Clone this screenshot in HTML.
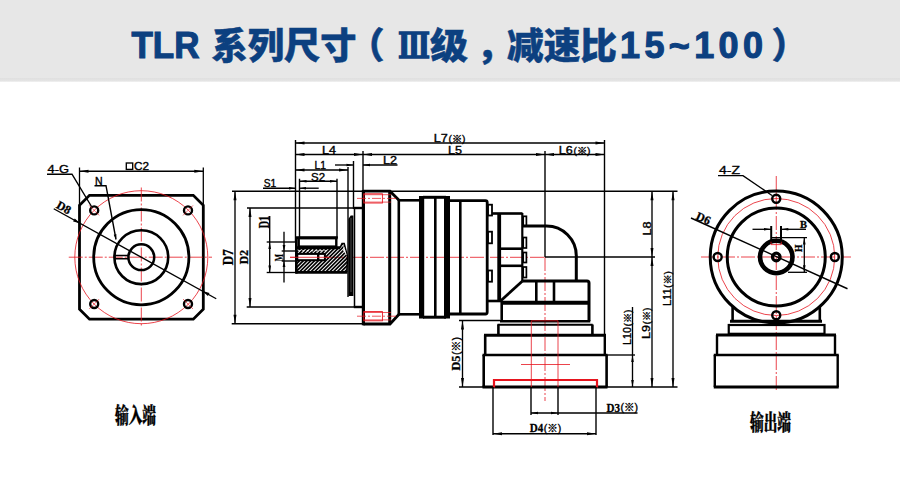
<!DOCTYPE html>
<html lang="zh"><head><meta charset="utf-8"><title>TLR 系列尺寸</title>
<style>
html,body{margin:0;padding:0;background:#fff;}
body{width:900px;height:480px;position:relative;overflow:hidden;font-family:"Liberation Sans","Noto Sans CJK SC",sans-serif;}
.banner{position:absolute;left:0;top:0;width:900px;height:78px;background:#e7e7e7;}
.banner2{position:absolute;left:0;top:78px;width:900px;height:3.5px;background:linear-gradient(#e0e0e0,#e4e4e4 70%,#f4f4f4);}
svg{position:absolute;left:0;top:0;}
.ttl{font-family:"Liberation Sans","Noto Sans CJK SC",sans-serif;font-weight:900;fill:#0c4080;}
.cad{font-family:"Liberation Sans","Noto Sans CJK SC",sans-serif;fill:#000;stroke:#000;stroke-width:0.35px;}
.ser{font-family:"Liberation Serif","Noto Serif CJK SC",serif;font-weight:bold;fill:#000;stroke:#000;stroke-width:0.3px;}
.cjk{font-family:"Noto Serif CJK SC","Liberation Serif",serif;font-weight:900;fill:#000;stroke:#000;stroke-width:0.4px;}
</style></head><body>
<div class="banner"></div><div class="banner2"></div>
<svg width="900" height="480" viewBox="0 0 900 480" >
<defs><clipPath id="hc"><path d="M297,247.5 L340,247.5 L342,243.6 L344.2,243.6 L347.6,256.8 L346.8,272 L297,272 Z"/></clipPath></defs>
<g class="ttl" font-size="36" stroke="#0c4080" stroke-width="0.5" transform="translate(0,0.9)">
<text x="131.5" y="57" textLength="68" lengthAdjust="spacingAndGlyphs" stroke="#0c4080" stroke-width="1.1">TLR</text>
<text x="211.5" y="58" textLength="145" lengthAdjust="spacingAndGlyphs">系列尺寸</text>
<text x="348.5" y="58">（</text>
<text x="398" y="57" textLength="32" lengthAdjust="spacingAndGlyphs" style="font-family:'DejaVu Serif','Liberation Serif',serif" font-weight="700" stroke="#0c4080" stroke-width="1.5">Ⅲ</text>
<text x="430" y="58" textLength="38" lengthAdjust="spacingAndGlyphs">级</text>
<text x="476.5" y="58">，</text>
<text x="507" y="58" textLength="110" lengthAdjust="spacingAndGlyphs">减速比</text>
<text x="620" y="57" textLength="143" lengthAdjust="spacing" stroke="#0c4080" stroke-width="1.1">15~100</text>
<text x="771.5" y="58">）</text>
</g>
<path d="M89.5,195.3 L193.3,195.3 L203.3,205.3 L203.3,309.2 L193.3,319.2 L89.5,319.2 L79.5,309.2 L79.5,205.3 Z" stroke="#000" stroke-width="2.8" fill="none" />
<circle cx="141.3" cy="257.2" r="66.5" stroke="#e6141e" stroke-width="0.8" fill="none"/>
<line x1="68.75" y1="257.2" x2="212" y2="257.2" stroke="#e6141e" stroke-width="0.8" stroke-dasharray="14 2 2 2"/>
<line x1="141.3" y1="187.5" x2="141.3" y2="327.5" stroke="#e6141e" stroke-width="0.8" stroke-dasharray="14 2 2 2"/>
<circle cx="141.3" cy="257.2" r="47.6" stroke="#000" stroke-width="2.8" fill="none"/>
<circle cx="141.3" cy="257.2" r="26.9" stroke="#000" stroke-width="2.6" fill="none"/>
<circle cx="141.3" cy="257.2" r="12.9" stroke="#000" stroke-width="2.5" fill="none"/>
<circle cx="94.2" cy="210.4" r="4" stroke="#000" stroke-width="2.4" fill="none"/>
<line x1="89.2" y1="205.4" x2="99.2" y2="215.4" stroke="#e6141e" stroke-width="0.6" />
<circle cx="188" cy="210.4" r="4" stroke="#000" stroke-width="2.4" fill="none"/>
<line x1="183" y1="215.4" x2="193" y2="205.4" stroke="#e6141e" stroke-width="0.6" />
<circle cx="94.2" cy="304" r="4" stroke="#000" stroke-width="2.4" fill="none"/>
<line x1="89.2" y1="309" x2="99.2" y2="299" stroke="#e6141e" stroke-width="0.6" />
<circle cx="188" cy="304" r="4" stroke="#000" stroke-width="2.4" fill="none"/>
<line x1="183" y1="299" x2="193" y2="309" stroke="#e6141e" stroke-width="0.6" />
<path d="M128.5,255.5 L115,255.5 L115,258.8 L128.5,258.8" stroke="#000" stroke-width="1.4" fill="none" />
<line x1="53.75" y1="208.75" x2="216.25" y2="298.75" stroke="#000" stroke-width="1.4" />
<polygon points="80.06,223.29 73.12,221.38 74.76,218.41" fill="#000"/>
<polygon points="202.54,291.11 209.48,293.02 207.84,295.99" fill="#000"/>
<text x="55.5" y="207.5" class="ser" font-size="12" text-anchor="start" transform="rotate(28.979707697928777 55.5 207.5)" >D8</text>
<text x="47.5" y="173" class="cad" font-size="11" text-anchor="start" textLength="21.5" lengthAdjust="spacingAndGlyphs" >4-G</text>
<path d="M47,174.2 L72,174.2 L91.5,206.5" stroke="#000" stroke-width="1.4" fill="none" />
<text x="95" y="184.5" class="cad" font-size="10.5" text-anchor="start" >N</text>
<path d="M94.5,185.7 L106,185.7 L116,239.5" stroke="#000" stroke-width="1.4" fill="none" />
<polygon points="116.00,239.50 113.71,234.84 116.47,234.33" fill="#000"/>
<line x1="79.5" y1="167.5" x2="79.5" y2="206" stroke="#000" stroke-width="1.3" />
<line x1="203.3" y1="167.5" x2="203.3" y2="206" stroke="#000" stroke-width="1.3" />
<line x1="79.5" y1="171.25" x2="203.3" y2="171.25" stroke="#000" stroke-width="1.35" />
<polygon points="79.50,171.25 88.50,169.75 88.50,172.75" fill="#000"/>
<polygon points="203.30,171.25 194.30,172.75 194.30,169.75" fill="#000"/>
<rect x="126.3" y="163" width="6.4" height="6.4" stroke="#000" stroke-width="1.35" fill="none"/>
<text x="134" y="170" class="cad" font-size="10.5" text-anchor="start" textLength="15" lengthAdjust="spacingAndGlyphs" >C2</text>
<text x="115" y="423.2" class="cjk" font-size="21.5" text-anchor="start" textLength="41" lengthAdjust="spacingAndGlyphs" >输入端</text>
<line x1="701" y1="257" x2="851" y2="257" stroke="#e6141e" stroke-width="0.8" stroke-dasharray="14 2 2 2"/>
<line x1="776.25" y1="176" x2="776.25" y2="391" stroke="#e6141e" stroke-width="0.8" stroke-dasharray="14 2 2 2"/>
<circle cx="776.25" cy="257" r="58.5" stroke="#e6141e" stroke-width="0.8" fill="none"/>
<circle cx="776.25" cy="257" r="66" stroke="#000" stroke-width="3" fill="none"/>
<circle cx="776.25" cy="257" r="49" stroke="#000" stroke-width="3" fill="none"/>
<circle cx="776.25" cy="257" r="16.2" stroke="#000" stroke-width="4.6" fill="none"/>
<circle cx="776.25" cy="257" r="3.8" stroke="#000" stroke-width="3.2" fill="none"/>
<circle cx="776.25" cy="198.8" r="4" stroke="#000" stroke-width="2.4" fill="none"/>
<circle cx="776.25" cy="315.2" r="4" stroke="#000" stroke-width="2.4" fill="none"/>
<circle cx="717.65" cy="257" r="4" stroke="#000" stroke-width="2.4" fill="none"/>
<circle cx="834.85" cy="257" r="4" stroke="#000" stroke-width="2.4" fill="none"/>
<path d="M771,241.5 L771,244.6 L781.3,244.6 L781.3,241.5" stroke="#e6141e" stroke-width="0.8" fill="none" />
<line x1="691" y1="218" x2="847.5" y2="288.75" stroke="#000" stroke-width="1.4" />
<text x="695" y="219" class="ser" font-size="12" text-anchor="start" transform="rotate(24.326616280234944 695 219)" >D6</text>
<text x="719" y="174.3" class="cad" font-size="11" text-anchor="start" textLength="21" lengthAdjust="spacingAndGlyphs" >4-Z</text>
<path d="M718,175.6 L743,175.6 L772,195.5" stroke="#000" stroke-width="1.4" fill="none" />
<line x1="752.5" y1="229.3" x2="771" y2="229.3" stroke="#000" stroke-width="1.3" />
<polygon points="771.00,229.30 764.00,230.60 764.00,228.00" fill="#000"/>
<line x1="781.3" y1="229.3" x2="806" y2="229.3" stroke="#000" stroke-width="1.3" />
<polygon points="781.30,229.30 788.30,228.00 788.30,230.60" fill="#000"/>
<line x1="771.2" y1="226" x2="771.2" y2="241.5" stroke="#000" stroke-width="2" />
<line x1="781" y1="226" x2="781" y2="241.5" stroke="#000" stroke-width="2" />
<text x="800" y="228" class="ser" font-size="10.5" text-anchor="start" >B</text>
<line x1="771" y1="237.6" x2="807" y2="237.6" stroke="#000" stroke-width="1.3" />
<line x1="788" y1="272.3" x2="807" y2="272.3" stroke="#000" stroke-width="1.3" />
<line x1="804.3" y1="237.6" x2="804.3" y2="272.3" stroke="#000" stroke-width="1.3" />
<polygon points="804.30,237.60 805.60,244.60 803.00,244.60" fill="#000"/>
<polygon points="804.30,272.30 803.00,265.30 805.60,265.30" fill="#000"/>
<text x="802.5" y="248.3" class="ser" font-size="9.5" text-anchor="middle" transform="rotate(-90 802.5 248.3)" >H</text>
<line x1="732.6" y1="306.5" x2="732.6" y2="321" stroke="#000" stroke-width="2.6" />
<line x1="819.8" y1="306.5" x2="819.8" y2="321" stroke="#000" stroke-width="2.6" />
<line x1="730" y1="321.3" x2="822" y2="321.3" stroke="#000" stroke-width="3" />
<rect x="728.75" y="325" width="95.75" height="8.8" stroke="#000" stroke-width="2.2" fill="none"/>
<line x1="716" y1="335" x2="836" y2="335" stroke="#000" stroke-width="3" />
<line x1="717" y1="335" x2="717" y2="355" stroke="#000" stroke-width="2.4" />
<line x1="835" y1="335" x2="835" y2="355" stroke="#000" stroke-width="2.4" />
<line x1="713.75" y1="355" x2="838.75" y2="355" stroke="#000" stroke-width="2.4" />
<line x1="714.8" y1="355" x2="714.8" y2="387" stroke="#000" stroke-width="2.4" />
<line x1="837.7" y1="355" x2="837.7" y2="387" stroke="#000" stroke-width="2.4" />
<line x1="713.75" y1="387" x2="838.75" y2="387" stroke="#000" stroke-width="3" />
<text x="750" y="429.8" class="cjk" font-size="21.5" text-anchor="start" textLength="41" lengthAdjust="spacingAndGlyphs" >输出端</text>
<line x1="290" y1="257.3" x2="546" y2="257.3" stroke="#e6141e" stroke-width="0.8" stroke-dasharray="14 2 2 2"/>
<line x1="545" y1="257" x2="545" y2="401" stroke="#e6141e" stroke-width="0.8" stroke-dasharray="14 2 2 2"/>
<line x1="232" y1="191.25" x2="677.5" y2="191.25" stroke="#000" stroke-width="1.35" />
<line x1="295.5" y1="140" x2="295.5" y2="242" stroke="#000" stroke-width="1.4" />
<line x1="295.5" y1="143" x2="604.5" y2="143" stroke="#000" stroke-width="1.35" />
<polygon points="295.50,143.00 304.50,141.50 304.50,144.50" fill="#000"/>
<polygon points="604.50,143.00 595.50,144.50 595.50,141.50" fill="#000"/>
<text x="433.7" y="142.2" class="cad" font-size="10.5" text-anchor="start" textLength="14" lengthAdjust="spacingAndGlyphs" >L7</text>
<text x="448.5" y="141.8" class="cad" font-size="9.5" text-anchor="start" textLength="17" lengthAdjust="spacingAndGlyphs" >(※)</text>
<line x1="604.5" y1="140" x2="604.5" y2="335" stroke="#000" stroke-width="1.4" />
<line x1="295.5" y1="154.5" x2="604.5" y2="154.5" stroke="#000" stroke-width="1.35" />
<polygon points="295.50,154.50 304.50,153.00 304.50,156.00" fill="#000"/>
<polygon points="363.00,154.50 354.00,156.00 354.00,153.00" fill="#000"/>
<polygon points="363.00,154.50 372.00,153.00 372.00,156.00" fill="#000"/>
<polygon points="545.00,154.50 536.00,156.00 536.00,153.00" fill="#000"/>
<polygon points="545.00,154.50 554.00,153.00 554.00,156.00" fill="#000"/>
<polygon points="604.50,154.50 595.50,156.00 595.50,153.00" fill="#000"/>
<text x="322" y="153.8" class="cad" font-size="10.5" text-anchor="start" textLength="14" lengthAdjust="spacingAndGlyphs" >L4</text>
<line x1="363" y1="151" x2="363" y2="191" stroke="#000" stroke-width="1.4" />
<text x="448" y="153.9" class="cad" font-size="10.5" text-anchor="start" textLength="14" lengthAdjust="spacingAndGlyphs" >L5</text>
<line x1="545" y1="151" x2="545" y2="257" stroke="#000" stroke-width="1.4" />
<text x="558.7" y="153.9" class="cad" font-size="10.5" text-anchor="start" textLength="14" lengthAdjust="spacingAndGlyphs" >L6</text>
<text x="573.5" y="153.6" class="cad" font-size="9.5" text-anchor="start" textLength="17" lengthAdjust="spacingAndGlyphs" >(※)</text>
<line x1="335" y1="165" x2="353.5" y2="165" stroke="#000" stroke-width="1.35" />
<polygon points="353.50,165.00 346.50,166.30 346.50,163.70" fill="#000"/>
<line x1="363" y1="165" x2="397.5" y2="165" stroke="#000" stroke-width="1.35" />
<polygon points="363.00,165.00 370.00,163.70 370.00,166.30" fill="#000"/>
<text x="383" y="164" class="cad" font-size="10.5" text-anchor="start" textLength="14" lengthAdjust="spacingAndGlyphs" >L2</text>
<line x1="353.5" y1="161" x2="353.5" y2="209" stroke="#000" stroke-width="1.4" />
<line x1="295.5" y1="170" x2="348" y2="170" stroke="#000" stroke-width="1.35" />
<polygon points="295.50,170.00 304.50,168.50 304.50,171.50" fill="#000"/>
<polygon points="348.00,170.00 339.00,171.50 339.00,168.50" fill="#000"/>
<text x="314.5" y="169.4" class="cad" font-size="10.5" text-anchor="start" textLength="11.5" lengthAdjust="spacingAndGlyphs" >L1</text>
<line x1="348" y1="167" x2="348" y2="297" stroke="#000" stroke-width="1.4" />
<line x1="299.5" y1="181.25" x2="337" y2="181.25" stroke="#000" stroke-width="1.35" />
<polygon points="299.50,181.25 306.50,179.95 306.50,182.55" fill="#000"/>
<polygon points="337.00,181.25 330.00,182.55 330.00,179.95" fill="#000"/>
<text x="311" y="181.2" class="cad" font-size="10.5" text-anchor="start" textLength="14" lengthAdjust="spacingAndGlyphs" >S2</text>
<line x1="299.5" y1="178.75" x2="299.5" y2="238" stroke="#000" stroke-width="1.4" />
<line x1="337" y1="178.75" x2="337" y2="238" stroke="#000" stroke-width="1.4" />
<text x="263.7" y="187" class="cad" font-size="10.5" text-anchor="start" textLength="12.5" lengthAdjust="spacingAndGlyphs" >S1</text>
<line x1="263" y1="188.2" x2="295.5" y2="188.2" stroke="#000" stroke-width="1.35" />
<polygon points="295.50,188.20 289.00,189.50 289.00,186.90" fill="#000"/>
<line x1="299.5" y1="188.2" x2="318.7" y2="188.2" stroke="#000" stroke-width="1.35" />
<polygon points="299.50,188.20 306.00,186.90 306.00,189.50" fill="#000"/>
<line x1="235" y1="191.25" x2="235" y2="323.7" stroke="#000" stroke-width="1.35" />
<polygon points="235.00,191.25 236.50,200.25 233.50,200.25" fill="#000"/>
<polygon points="235.00,323.70 233.50,314.70 236.50,314.70" fill="#000"/>
<line x1="231.7" y1="323.7" x2="363" y2="323.7" stroke="#000" stroke-width="1.35" />
<text x="233.4" y="265.2" class="ser" font-size="14.8" text-anchor="start" textLength="16" lengthAdjust="spacingAndGlyphs" transform="rotate(-90 233.4 265.2)" >D7</text>
<line x1="247" y1="208" x2="363" y2="208" stroke="#000" stroke-width="1.7" />
<line x1="246.7" y1="307" x2="361.7" y2="307" stroke="#000" stroke-width="1.7" />
<line x1="250" y1="208" x2="250" y2="307" stroke="#000" stroke-width="1.35" />
<polygon points="250.00,208.00 251.50,217.00 248.50,217.00" fill="#000"/>
<polygon points="250.00,307.00 248.50,298.00 251.50,298.00" fill="#000"/>
<text x="248.4" y="264.3" class="ser" font-size="12.2" text-anchor="start" textLength="14.3" lengthAdjust="spacingAndGlyphs" transform="rotate(-90 248.4 264.3)" >D2</text>
<line x1="269.7" y1="216" x2="269.7" y2="272.5" stroke="#000" stroke-width="1.35" />
<line x1="266.7" y1="242" x2="295.5" y2="242" stroke="#000" stroke-width="1.35" />
<line x1="266.7" y1="272.5" x2="295.5" y2="272.5" stroke="#000" stroke-width="1.35" />
<polygon points="269.70,242.00 271.00,249.00 268.40,249.00" fill="#000"/>
<polygon points="269.70,272.50 268.40,265.50 271.00,265.50" fill="#000"/>
<text x="269.3" y="228.2" class="ser" font-size="15" text-anchor="start" textLength="12.4" lengthAdjust="spacingAndGlyphs" transform="rotate(-90 269.3 228.2)" >D1</text>
<line x1="284" y1="231.7" x2="284" y2="282.5" stroke="#000" stroke-width="1.35" />
<line x1="281.7" y1="251" x2="296" y2="251" stroke="#000" stroke-width="1.35" />
<line x1="281.7" y1="261" x2="296" y2="261" stroke="#000" stroke-width="1.35" />
<polygon points="284.00,251.00 282.60,245.00 285.40,245.00" fill="#000"/>
<polygon points="284.00,261.00 285.40,267.00 282.60,267.00" fill="#000"/>
<text x="282.8" y="261.2" class="ser" font-size="12" text-anchor="start" textLength="7.2" lengthAdjust="spacingAndGlyphs" transform="rotate(-90 282.8 261.2)" >M</text>
<g clip-path="url(#hc)">
<line x1="243.0" y1="276" x2="277.0" y2="242" stroke="#000" stroke-width="1.7" />
<line x1="246.75" y1="276" x2="280.75" y2="242" stroke="#000" stroke-width="1.7" />
<line x1="250.5" y1="276" x2="284.5" y2="242" stroke="#000" stroke-width="1.7" />
<line x1="254.25" y1="276" x2="288.25" y2="242" stroke="#000" stroke-width="1.7" />
<line x1="258.0" y1="276" x2="292.0" y2="242" stroke="#000" stroke-width="1.7" />
<line x1="261.75" y1="276" x2="295.75" y2="242" stroke="#000" stroke-width="1.7" />
<line x1="265.5" y1="276" x2="299.5" y2="242" stroke="#000" stroke-width="1.7" />
<line x1="269.25" y1="276" x2="303.25" y2="242" stroke="#000" stroke-width="1.7" />
<line x1="273.0" y1="276" x2="307.0" y2="242" stroke="#000" stroke-width="1.7" />
<line x1="276.75" y1="276" x2="310.75" y2="242" stroke="#000" stroke-width="1.7" />
<line x1="280.5" y1="276" x2="314.5" y2="242" stroke="#000" stroke-width="1.7" />
<line x1="284.25" y1="276" x2="318.25" y2="242" stroke="#000" stroke-width="1.7" />
<line x1="288.0" y1="276" x2="322.0" y2="242" stroke="#000" stroke-width="1.7" />
<line x1="291.75" y1="276" x2="325.75" y2="242" stroke="#000" stroke-width="1.7" />
<line x1="295.5" y1="276" x2="329.5" y2="242" stroke="#000" stroke-width="1.7" />
<line x1="299.25" y1="276" x2="333.25" y2="242" stroke="#000" stroke-width="1.7" />
<line x1="303.0" y1="276" x2="337.0" y2="242" stroke="#000" stroke-width="1.7" />
<line x1="306.75" y1="276" x2="340.75" y2="242" stroke="#000" stroke-width="1.7" />
<line x1="310.5" y1="276" x2="344.5" y2="242" stroke="#000" stroke-width="1.7" />
<line x1="314.25" y1="276" x2="348.25" y2="242" stroke="#000" stroke-width="1.7" />
<line x1="318.0" y1="276" x2="352.0" y2="242" stroke="#000" stroke-width="1.7" />
<line x1="321.75" y1="276" x2="355.75" y2="242" stroke="#000" stroke-width="1.7" />
<line x1="325.5" y1="276" x2="359.5" y2="242" stroke="#000" stroke-width="1.7" />
<line x1="329.25" y1="276" x2="363.25" y2="242" stroke="#000" stroke-width="1.7" />
<line x1="333.0" y1="276" x2="367.0" y2="242" stroke="#000" stroke-width="1.7" />
<line x1="336.75" y1="276" x2="370.75" y2="242" stroke="#000" stroke-width="1.7" />
<line x1="340.5" y1="276" x2="374.5" y2="242" stroke="#000" stroke-width="1.7" />
<line x1="344.25" y1="276" x2="378.25" y2="242" stroke="#000" stroke-width="1.7" />
<line x1="348.0" y1="276" x2="382.0" y2="242" stroke="#000" stroke-width="1.7" />
<line x1="351.75" y1="276" x2="385.75" y2="242" stroke="#000" stroke-width="1.7" />
<line x1="355.5" y1="276" x2="389.5" y2="242" stroke="#000" stroke-width="1.7" />
<line x1="359.25" y1="276" x2="393.25" y2="242" stroke="#000" stroke-width="1.7" />
<line x1="363.0" y1="276" x2="397.0" y2="242" stroke="#000" stroke-width="1.7" />
<line x1="366.75" y1="276" x2="400.75" y2="242" stroke="#000" stroke-width="1.7" />
<line x1="370.5" y1="276" x2="404.5" y2="242" stroke="#000" stroke-width="1.7" />
<line x1="374.25" y1="276" x2="408.25" y2="242" stroke="#000" stroke-width="1.7" />
<line x1="378.0" y1="276" x2="412.0" y2="242" stroke="#000" stroke-width="1.7" />
<line x1="381.75" y1="276" x2="415.75" y2="242" stroke="#000" stroke-width="1.7" />
<line x1="385.5" y1="276" x2="419.5" y2="242" stroke="#000" stroke-width="1.7" />
<line x1="389.25" y1="276" x2="423.25" y2="242" stroke="#000" stroke-width="1.7" />
<line x1="393.0" y1="276" x2="427.0" y2="242" stroke="#000" stroke-width="1.7" />
<line x1="396.75" y1="276" x2="430.75" y2="242" stroke="#000" stroke-width="1.7" />
<line x1="400.5" y1="276" x2="434.5" y2="242" stroke="#000" stroke-width="1.7" />
<line x1="404.25" y1="276" x2="438.25" y2="242" stroke="#000" stroke-width="1.7" />
<line x1="408.0" y1="276" x2="442.0" y2="242" stroke="#000" stroke-width="1.7" />
<line x1="411.75" y1="276" x2="445.75" y2="242" stroke="#000" stroke-width="1.7" />
<line x1="415.5" y1="276" x2="449.5" y2="242" stroke="#000" stroke-width="1.7" />
<line x1="419.25" y1="276" x2="453.25" y2="242" stroke="#000" stroke-width="1.7" />
<line x1="423.0" y1="276" x2="457.0" y2="242" stroke="#000" stroke-width="1.7" />
<line x1="426.75" y1="276" x2="460.75" y2="242" stroke="#000" stroke-width="1.7" />
<line x1="430.5" y1="276" x2="464.5" y2="242" stroke="#000" stroke-width="1.7" />
<line x1="434.25" y1="276" x2="468.25" y2="242" stroke="#000" stroke-width="1.7" />
</g>
<line x1="296.3" y1="237" x2="296.3" y2="273.6" stroke="#000" stroke-width="2.6" />
<line x1="295.5" y1="272.3" x2="347.5" y2="272.3" stroke="#000" stroke-width="2.8" />
<line x1="296.2" y1="247.8" x2="340" y2="247.8" stroke="#000" stroke-width="3" />
<path d="M340,247.8 L342,243.6 L344.2,243.6 L347.6,256.8 L346.8,272" stroke="#000" stroke-width="1.5" fill="none" />
<path d="M343.6,245 L346.9,255.8 L343.2,250.8 Z" stroke="none" stroke-width="0" fill="#fff" />
<rect x="298.7" y="238" width="37.6" height="8.6" stroke="#000" stroke-width="2.4" fill="#fff"/>
<line x1="296" y1="237.7" x2="337.7" y2="237.7" stroke="#000" stroke-width="3" />
<rect x="297.3" y="253.9" width="27.6" height="6.3" stroke="#000" stroke-width="2" fill="#fff"/>
<line x1="318.2" y1="253.5" x2="318.2" y2="260.8" stroke="#000" stroke-width="2.4" />
<line x1="298" y1="250.8" x2="327" y2="250.8" stroke="#fff" stroke-width="1.1" stroke-dasharray="2 2.4"/>
<line x1="290" y1="257.3" x2="330" y2="257.3" stroke="#e6141e" stroke-width="0.8" />
<path d="M348.4,296 L348.4,219 L350.7,215.5 L353.4,215.5 L353.4,296 Z" stroke="none" stroke-width="0" fill="#000" />
<line x1="351" y1="218" x2="351" y2="292" stroke="#999" stroke-width="0.5" />
<line x1="354.5" y1="208" x2="354.5" y2="307" stroke="#000" stroke-width="1.5" />
<line x1="353.8" y1="307" x2="363" y2="307" stroke="#000" stroke-width="2.4" />
<line x1="353.8" y1="208" x2="363" y2="208" stroke="#000" stroke-width="2.4" />
<path d="M363.3,191.2 L390,191.2 L398.8,200 M398.8,314.5 L390,324 L363.3,324" stroke="#000" stroke-width="2.8" fill="none" />
<line x1="363.4" y1="190" x2="363.4" y2="325.3" stroke="#000" stroke-width="3.2" />
<line x1="389.7" y1="191.2" x2="389.7" y2="324" stroke="#000" stroke-width="3" />
<line x1="398.8" y1="199" x2="398.8" y2="315.5" stroke="#000" stroke-width="2.6" />
<line x1="398" y1="200.3" x2="420" y2="200.3" stroke="#000" stroke-width="2.6" />
<line x1="398" y1="314.3" x2="420" y2="314.3" stroke="#000" stroke-width="2.6" />
<rect x="419" y="196" width="5.2" height="122.5" stroke="none" stroke-width="0" fill="#000"/>
<line x1="423" y1="197.3" x2="446" y2="197.3" stroke="#000" stroke-width="3" />
<line x1="423" y1="317.2" x2="446" y2="317.2" stroke="#000" stroke-width="3" />
<line x1="435.3" y1="197" x2="435.3" y2="317.5" stroke="#000" stroke-width="2.6" />
<rect x="444" y="196" width="6" height="122.5" stroke="none" stroke-width="0" fill="#000"/>
<path d="M449,200.7 L485.5,200.7 Q487.2,200.7 487.2,202.5 L487.2,312 Q487.2,314 485.5,314 L449,314" stroke="#000" stroke-width="2.8" fill="none" />
<line x1="460.3" y1="200" x2="460.3" y2="314" stroke="#000" stroke-width="2.6" />
<rect x="488" y="204.7" width="4" height="10.800000000000011" stroke="#000" stroke-width="1.8" fill="none"/>
<rect x="488" y="231.7" width="4" height="11.600000000000023" stroke="#000" stroke-width="1.8" fill="none"/>
<rect x="488" y="270.5" width="4" height="11.199999999999989" stroke="#000" stroke-width="1.8" fill="none"/>
<line x1="492" y1="213.5" x2="522.5" y2="213.5" stroke="#000" stroke-width="2.6" />
<rect x="497.3" y="213" width="3.8" height="88.5" stroke="none" stroke-width="0" fill="#000"/>
<line x1="522.3" y1="213" x2="522.3" y2="281" stroke="#000" stroke-width="2.2" />
<line x1="500" y1="248.7" x2="522.5" y2="248.7" stroke="#000" stroke-width="2.6" />
<line x1="500" y1="265.8" x2="522.5" y2="265.8" stroke="#000" stroke-width="2.6" />
<rect x="523.2" y="216.3" width="3.2" height="9.5" stroke="#000" stroke-width="1.7" fill="none"/>
<rect x="523.2" y="237.5" width="3.2" height="10.5" stroke="#000" stroke-width="1.7" fill="none"/>
<rect x="523.2" y="252.5" width="3.2" height="10.0" stroke="#000" stroke-width="1.7" fill="none"/>
<rect x="523.2" y="267" width="3.2" height="10.5" stroke="#000" stroke-width="1.7" fill="none"/>
<line x1="487" y1="301" x2="501" y2="301" stroke="#000" stroke-width="2.6" />
<line x1="500.5" y1="301" x2="522.5" y2="281" stroke="#000" stroke-width="2.8" />
<path d="M523,226 L546.5,226 A29.8,29.8 0 0 1 576.3,255.8 L576.3,281" stroke="#000" stroke-width="3" fill="none" />
<path d="M522.5,281 L587,281 Q589,281 589,283 L589,321" stroke="#000" stroke-width="3" fill="none" />
<line x1="501" y1="302.7" x2="589" y2="302.7" stroke="#000" stroke-width="4" />
<line x1="536.3" y1="281" x2="536.3" y2="302" stroke="#000" stroke-width="2.6" />
<line x1="554" y1="281" x2="554" y2="302" stroke="#000" stroke-width="2.6" />
<line x1="501.7" y1="301" x2="501.7" y2="321.7" stroke="#000" stroke-width="2.6" />
<line x1="500" y1="321.3" x2="590.3" y2="321.3" stroke="#000" stroke-width="2.6" />
<line x1="497.5" y1="324.8" x2="592.7" y2="324.8" stroke="#000" stroke-width="2" />
<line x1="498.4" y1="324.5" x2="498.4" y2="334.5" stroke="#000" stroke-width="2.6" />
<line x1="592.4" y1="324.5" x2="592.4" y2="334.5" stroke="#000" stroke-width="2.6" />
<line x1="484" y1="335.2" x2="606" y2="335.2" stroke="#000" stroke-width="3" />
<line x1="485.2" y1="335" x2="485.2" y2="355" stroke="#000" stroke-width="2.6" />
<line x1="604.8" y1="335" x2="604.8" y2="355" stroke="#000" stroke-width="2.4" />
<line x1="482.5" y1="355" x2="607.5" y2="355" stroke="#000" stroke-width="2.4" />
<line x1="483.7" y1="355" x2="483.7" y2="387" stroke="#000" stroke-width="2.6" />
<line x1="606.6" y1="355" x2="606.6" y2="387" stroke="#000" stroke-width="2.6" />
<line x1="482.5" y1="387" x2="607.5" y2="387" stroke="#000" stroke-width="3" />
<line x1="459" y1="387" x2="677.5" y2="387" stroke="#000" stroke-width="1.35" />
<line x1="545" y1="257" x2="655" y2="257" stroke="#000" stroke-width="1.4" />
<path d="M531.3,387 L531.3,320.8 L558,320.8 L558,387" stroke="#e6141e" stroke-width="0.8" fill="none" />
<path d="M494,387.5 L494,380 L597,380 L597,387.5" stroke="#e6141e" stroke-width="2.2" fill="none" />
<line x1="521" y1="364.5" x2="570" y2="364.5" stroke="#e6141e" stroke-width="0.8" />
<rect x="363.8" y="193.8" width="18.6" height="9.2" stroke="#e6141e" stroke-width="0.9" fill="none"/>
<line x1="363.8" y1="194.70000000000002" x2="391" y2="194.70000000000002" stroke="#e6141e" stroke-width="0.7" />
<line x1="363.8" y1="202.10000000000002" x2="391" y2="202.10000000000002" stroke="#e6141e" stroke-width="0.7" />
<line x1="357" y1="198.4" x2="396.5" y2="198.4" stroke="#e6141e" stroke-width="0.7" stroke-dasharray="9 2 2 2"/>
<rect x="363.8" y="311.6" width="18.6" height="9.2" stroke="#e6141e" stroke-width="0.9" fill="none"/>
<line x1="363.8" y1="312.5" x2="391" y2="312.5" stroke="#e6141e" stroke-width="0.7" />
<line x1="363.8" y1="319.90000000000003" x2="391" y2="319.90000000000003" stroke="#e6141e" stroke-width="0.7" />
<line x1="357" y1="316.20000000000005" x2="396.5" y2="316.20000000000005" stroke="#e6141e" stroke-width="0.7" stroke-dasharray="9 2 2 2"/>
<line x1="531" y1="387" x2="531" y2="415" stroke="#000" stroke-width="1.4" />
<line x1="558" y1="387" x2="558" y2="415" stroke="#000" stroke-width="1.4" />
<line x1="531" y1="413" x2="637.5" y2="413" stroke="#000" stroke-width="1.35" />
<polygon points="531.00,413.00 538.00,411.70 538.00,414.30" fill="#000"/>
<polygon points="558.00,413.00 551.00,414.30 551.00,411.70" fill="#000"/>
<text x="606.5" y="411.8" class="ser" font-size="13.5" text-anchor="start" textLength="13.5" lengthAdjust="spacingAndGlyphs" >D3</text>
<text x="620.5" y="411" class="cad" font-size="10" text-anchor="start" textLength="17.5" lengthAdjust="spacingAndGlyphs" >(※)</text>
<line x1="493" y1="387" x2="493" y2="435" stroke="#000" stroke-width="1.4" />
<line x1="596" y1="387" x2="596" y2="435" stroke="#000" stroke-width="1.4" />
<line x1="493" y1="433.7" x2="596" y2="433.7" stroke="#000" stroke-width="1.35" />
<polygon points="493.00,433.70 502.00,432.20 502.00,435.20" fill="#000"/>
<polygon points="596.00,433.70 587.00,435.20 587.00,432.20" fill="#000"/>
<text x="529.7" y="432.3" class="ser" font-size="13.5" text-anchor="start" textLength="13.5" lengthAdjust="spacingAndGlyphs" >D4</text>
<text x="543.7" y="431.5" class="cad" font-size="10" text-anchor="start" textLength="17.5" lengthAdjust="spacingAndGlyphs" >(※)</text>
<line x1="459" y1="320.5" x2="500" y2="320.5" stroke="#000" stroke-width="1.35" />
<line x1="462.5" y1="320.5" x2="462.5" y2="387" stroke="#000" stroke-width="1.35" />
<polygon points="462.50,320.50 464.00,329.50 461.00,329.50" fill="#000"/>
<polygon points="462.50,387.00 461.00,378.00 464.00,378.00" fill="#000"/>
<text x="460.2" y="370.6" class="ser" font-size="13.5" text-anchor="start" textLength="15" lengthAdjust="spacingAndGlyphs" transform="rotate(-90 460.2 370.6)" >D5</text>
<text x="459.6" y="355" class="cad" font-size="10" text-anchor="start" textLength="18" lengthAdjust="spacingAndGlyphs" transform="rotate(-90 459.6 355)" >(※)</text>
<line x1="652" y1="191.25" x2="652" y2="387" stroke="#000" stroke-width="1.35" />
<polygon points="652.00,191.25 653.50,200.25 650.50,200.25" fill="#000"/>
<polygon points="652.00,257.00 650.50,248.00 653.50,248.00" fill="#000"/>
<polygon points="652.00,257.00 653.50,266.00 650.50,266.00" fill="#000"/>
<polygon points="652.00,387.00 650.50,378.00 653.50,378.00" fill="#000"/>
<text x="650.5" y="235.5" class="cad" font-size="10.5" text-anchor="start" textLength="14" lengthAdjust="spacingAndGlyphs" transform="rotate(-90 650.5 235.5)" >L8</text>
<text x="650" y="339" class="cad" font-size="10.5" text-anchor="start" textLength="14" lengthAdjust="spacingAndGlyphs" transform="rotate(-90 650 339)" >L9</text>
<text x="649.8" y="324.5" class="cad" font-size="9.5" text-anchor="start" textLength="17" lengthAdjust="spacingAndGlyphs" transform="rotate(-90 649.8 324.5)" >(※)</text>
<line x1="632.5" y1="307" x2="632.5" y2="387" stroke="#000" stroke-width="1.35" />
<polygon points="632.50,355.00 633.80,362.00 631.20,362.00" fill="#000"/>
<polygon points="632.50,387.00 631.20,380.00 633.80,380.00" fill="#000"/>
<line x1="607" y1="355" x2="635" y2="355" stroke="#000" stroke-width="1.35" />
<text x="630.8" y="345" class="cad" font-size="10.5" text-anchor="start" textLength="18" lengthAdjust="spacingAndGlyphs" transform="rotate(-90 630.8 345)" >L10</text>
<text x="630.6" y="326.5" class="cad" font-size="9.5" text-anchor="start" textLength="17" lengthAdjust="spacingAndGlyphs" transform="rotate(-90 630.6 326.5)" >(※)</text>
<line x1="673" y1="191.25" x2="673" y2="387" stroke="#000" stroke-width="1.35" />
<polygon points="673.00,191.25 674.50,200.25 671.50,200.25" fill="#000"/>
<polygon points="673.00,387.00 671.50,378.00 674.50,378.00" fill="#000"/>
<text x="671" y="306" class="cad" font-size="10.5" text-anchor="start" textLength="17.5" lengthAdjust="spacingAndGlyphs" transform="rotate(-90 671 306)" >L11</text>
<text x="670.8" y="288" class="cad" font-size="9.5" text-anchor="start" textLength="17" lengthAdjust="spacingAndGlyphs" transform="rotate(-90 670.8 288)" >(※)</text>
</svg>
</body></html>
